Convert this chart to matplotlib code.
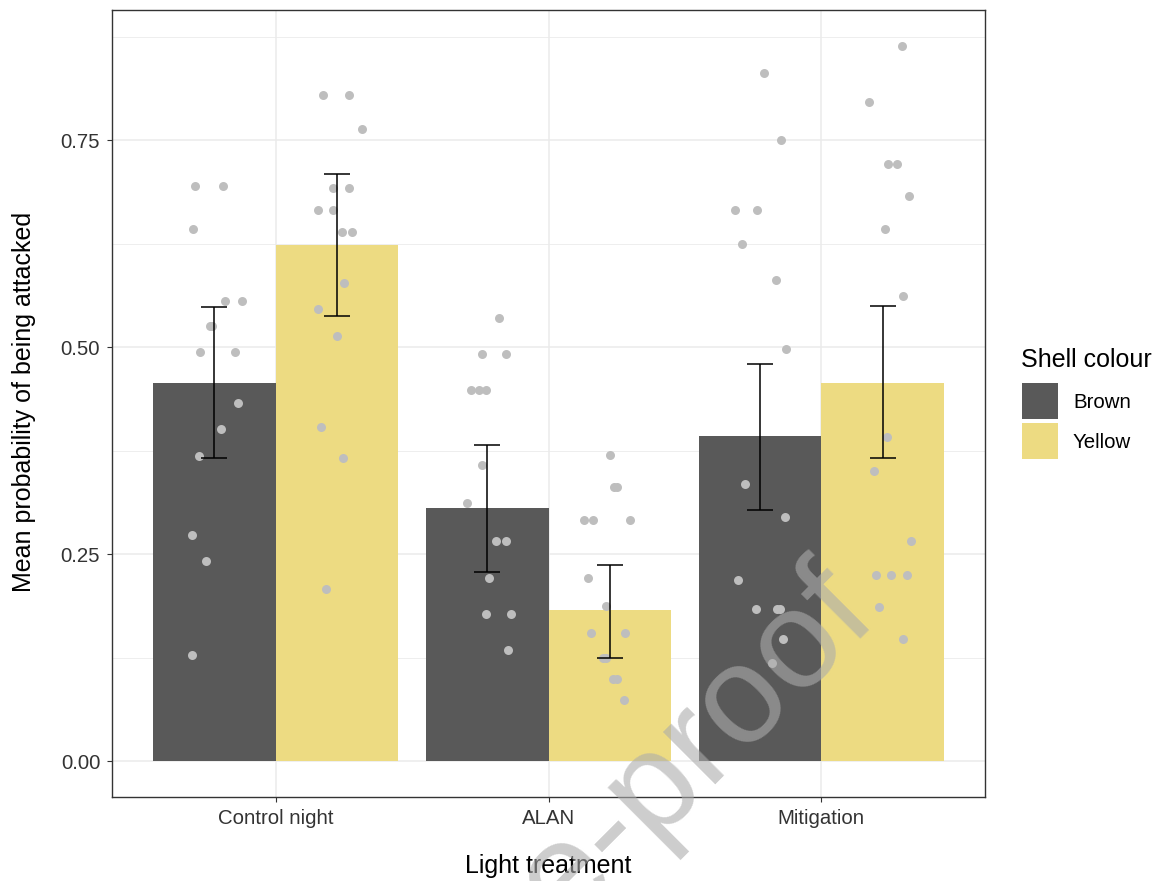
import numpy as np
import matplotlib
matplotlib.use("Agg")
import matplotlib.pyplot as plt
from matplotlib.patches import Rectangle

plt.rcParams['font.family'] = ['Liberation Sans', 'DejaVu Sans']

treatments = ["Control night", "ALAN", "Mitigation"]
shell_colours = ["Brown", "Yellow"]
fill_colours = ["#595959", "#EDDB82"]

# bar means and error bar limits
mean_brown = [0.457, 0.306, 0.393]
mean_yellow = [0.623, 0.182, 0.457]
low_brown = [0.366, 0.229, 0.303]
high_brown = [0.548, 0.382, 0.480]
low_yellow = [0.537, 0.125, 0.366]
high_yellow = [0.709, 0.237, 0.550]

# individual points (value, horizontal jitter from bar centre)
cn_brown_y = [0.694, 0.694, 0.643, 0.556, 0.556, 0.525, 0.525, 0.494, 0.494, 0.432, 0.401, 0.368, 0.273, 0.242, 0.128]
cn_brown_dx = [-0.070, 0.031, -0.077, 0.038, 0.100, -0.016, -0.008, -0.051, 0.075, 0.087, 0.025, -0.056, -0.082, -0.032, -0.082]
cn_yellow_y = [0.804, 0.804, 0.763, 0.692, 0.692, 0.666, 0.666, 0.639, 0.639, 0.577, 0.546, 0.513, 0.403, 0.366, 0.208]
cn_yellow_dx = [-0.053, 0.043, 0.092, -0.015, 0.043, -0.071, -0.015, 0.017, 0.054, 0.025, -0.071, -0.001, -0.059, 0.023, -0.039]
alan_brown_y = [0.535, 0.492, 0.492, 0.448, 0.448, 0.448, 0.358, 0.312, 0.266, 0.266, 0.221, 0.178, 0.178, 0.134]
alan_brown_dx = [0.044, -0.018, 0.071, -0.058, -0.031, -0.004, -0.018, -0.075, 0.032, 0.071, 0.006, -0.005, 0.089, 0.076]
alan_yellow_y = [0.370, 0.331, 0.331, 0.291, 0.291, 0.291, 0.221, 0.188, 0.155, 0.155, 0.125, 0.125, 0.099, 0.099, 0.074]
alan_yellow_dx = [-0.001, 0.015, 0.027, -0.096, -0.063, 0.075, -0.082, -0.014, -0.070, 0.056, -0.025, -0.013, 0.012, 0.025, 0.050]
mit_brown_y = [0.831, 0.750, 0.666, 0.666, 0.624, 0.581, 0.498, 0.335, 0.295, 0.219, 0.184, 0.184, 0.184, 0.148, 0.118]
mit_brown_dx = [0.015, 0.077, -0.093, -0.011, -0.067, 0.059, 0.097, -0.055, 0.091, -0.080, -0.016, 0.064, 0.074, 0.083, 0.045]
mit_yellow_y = [0.864, 0.796, 0.721, 0.721, 0.682, 0.643, 0.562, 0.392, 0.351, 0.266, 0.225, 0.225, 0.225, 0.186, 0.147]
mit_yellow_dx = [0.070, -0.049, 0.018, 0.053, 0.096, 0.007, 0.076, 0.014, -0.031, 0.102, -0.025, 0.032, 0.089, -0.012, 0.076]

points_brown = [(cn_brown_y, cn_brown_dx), (alan_brown_y, alan_brown_dx), (mit_brown_y, mit_brown_dx)]
points_yellow = [(cn_yellow_y, cn_yellow_dx), (alan_yellow_y, alan_yellow_dx), (mit_yellow_y, mit_yellow_dx)]

W, H = 1156, 881
fig = plt.figure(figsize=(W / 100, H / 100), dpi=100)
ax = fig.add_axes([112 / W, 1 - 797 / H, (985 - 112) / W, (797 - 10) / H])

x = np.arange(len(treatments))
bw = 0.45
groups = [(mean_brown, low_brown, high_brown, points_brown),
          (mean_yellow, low_yellow, high_yellow, points_yellow)]

for i, (means, lo, hi, pts) in enumerate(groups):
    xpos = x + (i - 0.5) * bw
    ax.bar(xpos, means, width=bw, color=fill_colours[i], zorder=2)
    for j, (vals, dx) in enumerate(pts):
        ax.scatter(xpos[j] + np.array(dx), vals, s=42, color="#BEBEBE",
                   linewidths=0, zorder=3)
    means = np.array(means)
    yerr = [means - np.array(lo), np.array(hi) - means]
    ax.errorbar(xpos, means, yerr=yerr, fmt="none", ecolor="black",
                elinewidth=1.1, capsize=9.5, capthick=1.1, zorder=4)

ax.set_xlim(-0.6, 2.6)
ax.set_ylim(-0.0432, 0.907)
ax.set_xticks(x)
ax.set_xticklabels(treatments)
ax.set_yticks([0, 0.25, 0.5, 0.75])
ax.set_yticklabels(["0.00", "0.25", "0.50", "0.75"])
ax.set_yticks([0.125, 0.375, 0.625, 0.875], minor=True)

ax.grid(which="major", color="#EBEBEB", linewidth=1.1, zorder=0)
ax.grid(which="minor", axis="y", color="#EBEBEB", linewidth=0.6, zorder=0)
ax.set_axisbelow(True)
for s in ax.spines.values():
    s.set_color("#333333")
    s.set_linewidth(1.0)
ax.tick_params(which="major", length=3.5, width=0.8, color="#333333",
               labelsize=14.7, labelcolor="#333333")
ax.tick_params(axis="x", pad=5.5)
ax.tick_params(axis="y", pad=5)
ax.tick_params(which="minor", length=0)

fig.text(548 / W, 1 - 873 / H, "Light treatment", fontsize=18,
         ha="center", va="baseline")
fig.text(24 / W, 1 - 402 / H, "Mean probability of being attacked",
         fontsize=18, rotation=90, ha="center", va="center")

# legend
fig.text(1021 / W, 1 - 360 / H, "Shell colour", fontsize=18, ha="left", va="center")
for i, lab in enumerate(shell_colours):
    top = 383 + i * 40
    fig.add_artist(Rectangle((1022 / W, 1 - (top + 36) / H), 36 / W, 36 / H,
                             transform=fig.transFigure, facecolor=fill_colours[i],
                             edgecolor="none"))
    fig.text(1073 / W, 1 - (top + 19) / H, lab, fontsize=14.7, ha="left", va="center")

# watermark
fig.text(497 / W, 1 - 1003 / H, "Journal Pre-proof", fontsize=101, color="#ACACAC",
         alpha=0.6, rotation=45, rotation_mode="anchor", ha="center", va="baseline",
         zorder=10)

fig.savefig("out.png", dpi=100)
